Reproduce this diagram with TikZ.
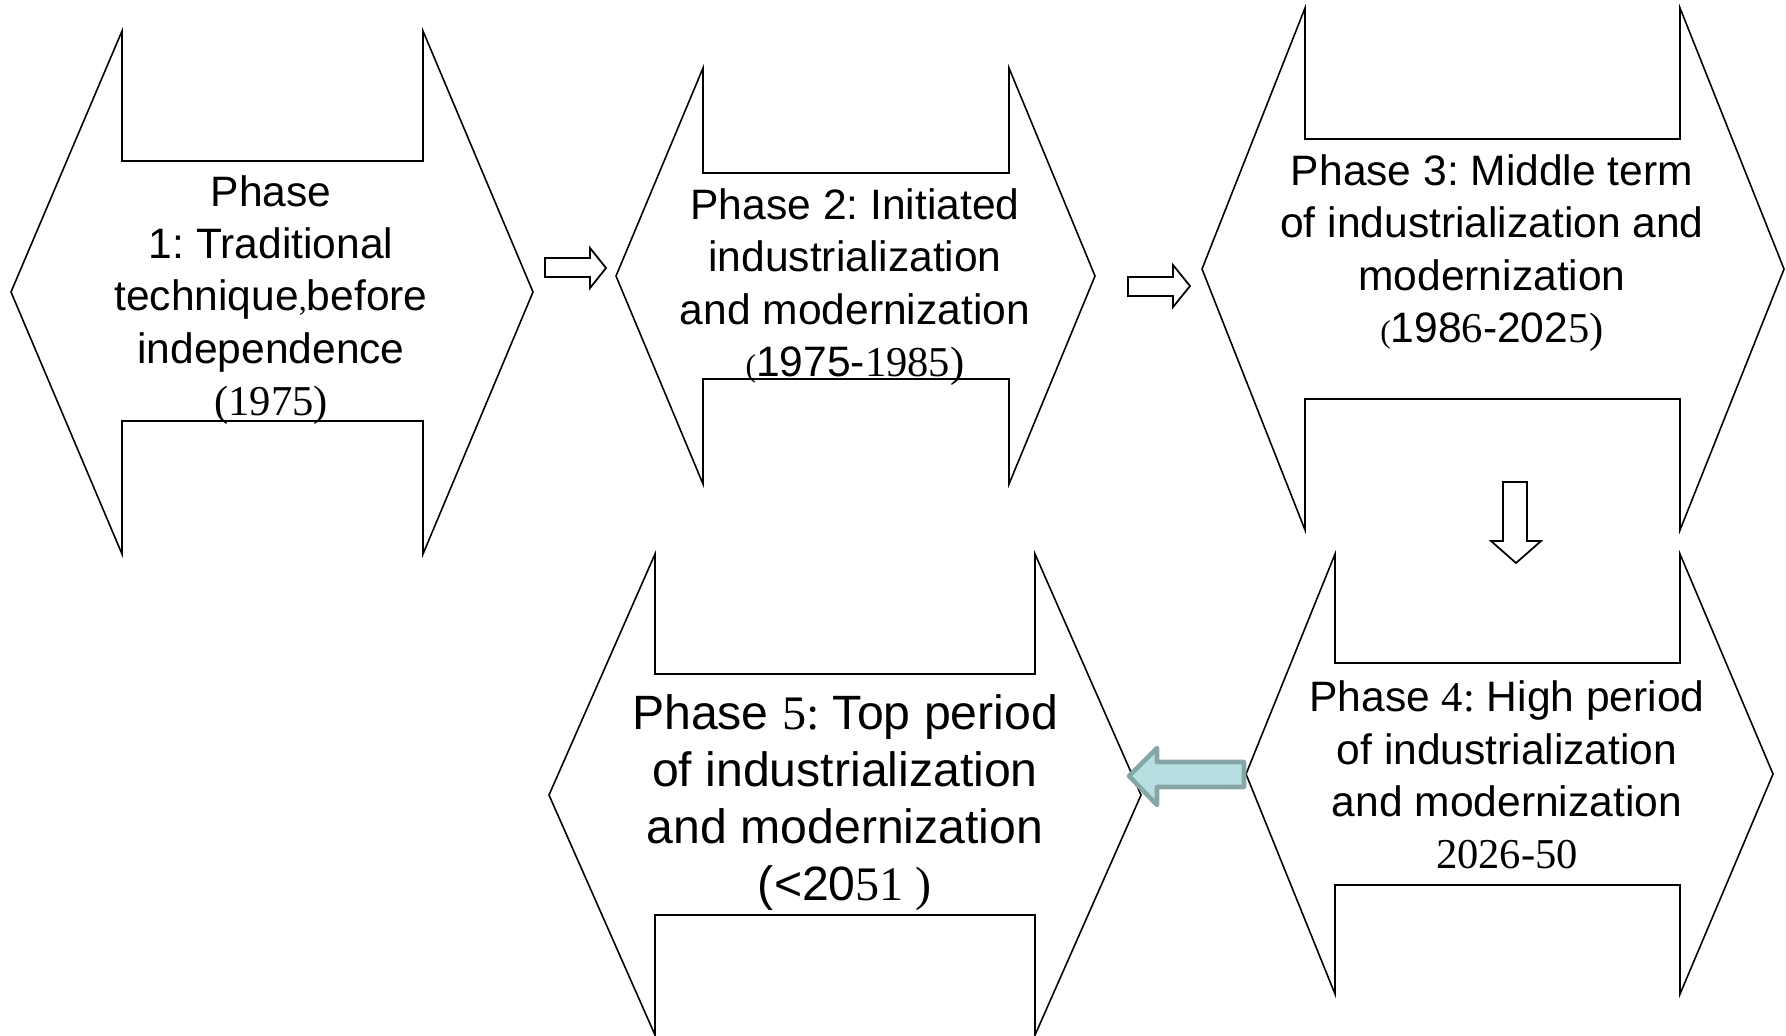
\documentclass[tikz,border=0pt]{standalone}
\usepackage{fontspec}
\setmainfont{Liberation Sans}
\newfontfamily\tnr{Liberation Serif}
\definecolor{tealfill}{RGB}{183,222,225}
\definecolor{tealedge}{RGB}{135,166,167}
\frenchspacing

\begin{document}
\begin{tikzpicture}[x=0.01cm, y=-0.01cm,
  phase/.style={draw, line width=0.45pt},
  phasetext/.style={align=center, inner sep=0pt, font=\fontsize{12.1}{14.9}\selectfont},
  blockarrow/.style={draw, fill=white, line width=0.5pt},
  bigarrow/.style={draw=tealedge, fill=tealfill, line width=1.3pt, line join=round}
]
\useasboundingbox (0,0) rectangle (1786,1035);

% phase outlines
\draw[phase] (122,31) -- (122,161) -- (423,161) -- (423,31) -- (533,292) -- (423,554)
  -- (423,421) -- (122,421) -- (122,554) -- (11,292) -- cycle;
\draw[phase] (703,68) -- (703,173) -- (1009,173) -- (1009,68) -- (1095,276) -- (1009,484)
  -- (1009,379) -- (703,379) -- (703,484) -- (616,276) -- cycle;
\draw[phase] (1305,8) -- (1305,139) -- (1680,139) -- (1680,8) -- (1784,269) -- (1680,530)
  -- (1680,399) -- (1305,399) -- (1305,530) -- (1202,269) -- cycle;
\draw[phase] (1335,554) -- (1335,663) -- (1680,663) -- (1680,554) -- (1773,774) -- (1680,994)
  -- (1680,885) -- (1335,885) -- (1335,994) -- (1246,774) -- cycle;
\draw[phase] (655,554) -- (655,674) -- (1035,674) -- (1035,554) -- (1141,795) -- (1035,1035)
  -- (1035,915) -- (655,915) -- (655,1035) -- (549,795) -- cycle;

% phase texts
\node[phasetext] (p1) at (271,300) {Phase\\1: Traditional\\technique{\tnr\small,}before\\independence\\{\tnr(1975)}};
\node[phasetext] (p2) at (855,287) {Phase 2: Initiated\\industrialization\\and modernization\\{\tnr\small(}1975-{\tnr 1985)}};
\node[phasetext] (p3) at (1492,253) {Phase 3: Middle term\\of industrialization and\\modernization\\{\tnr\small(}198{\tnr 6}-202{\tnr 5)}};
\node[phasetext] (p4) at (1507,775) {Phase {\tnr 4:} High period\\of industrialization\\and modernization\\{\tnr 2026-50}};
\node[phasetext, font=\fontsize{13.7}{16.2}\selectfont] (p5) at (845,803) {Phase {\tnr 5:} Top period\\of industrialization\\and modernization\\({<}20{\tnr 51 )}};

% arrows between phases
\coordinate (t12) at (606,268);
\coordinate (t23) at (1190,286);
\coordinate (t34) at (1516,563);
\coordinate (t45) at (1129,776);
\draw[blockarrow] (t12) -- ++(-16,-20) -- ++(0,10) -- ++(-45,0) -- ++(0,19) -- ++(45,0) -- ++(0,11) -- cycle;
\draw[blockarrow] (t23) -- ++(-17,-21) -- ++(0,12) -- ++(-45,0) -- ++(0,19) -- ++(45,0) -- ++(0,11) -- cycle;
\draw[blockarrow] (t34) -- ++(-25,-22) -- ++(12,0) -- ++(0,-59) -- ++(24,0) -- ++(0,59) -- ++(14,0) -- cycle;
\draw[bigarrow] (t45) -- ++(28,-28) -- ++(0,14) -- ++(87,0) -- ++(0,25) -- ++(-87,0) -- ++(0,18) -- cycle;
\end{tikzpicture}
\end{document}
